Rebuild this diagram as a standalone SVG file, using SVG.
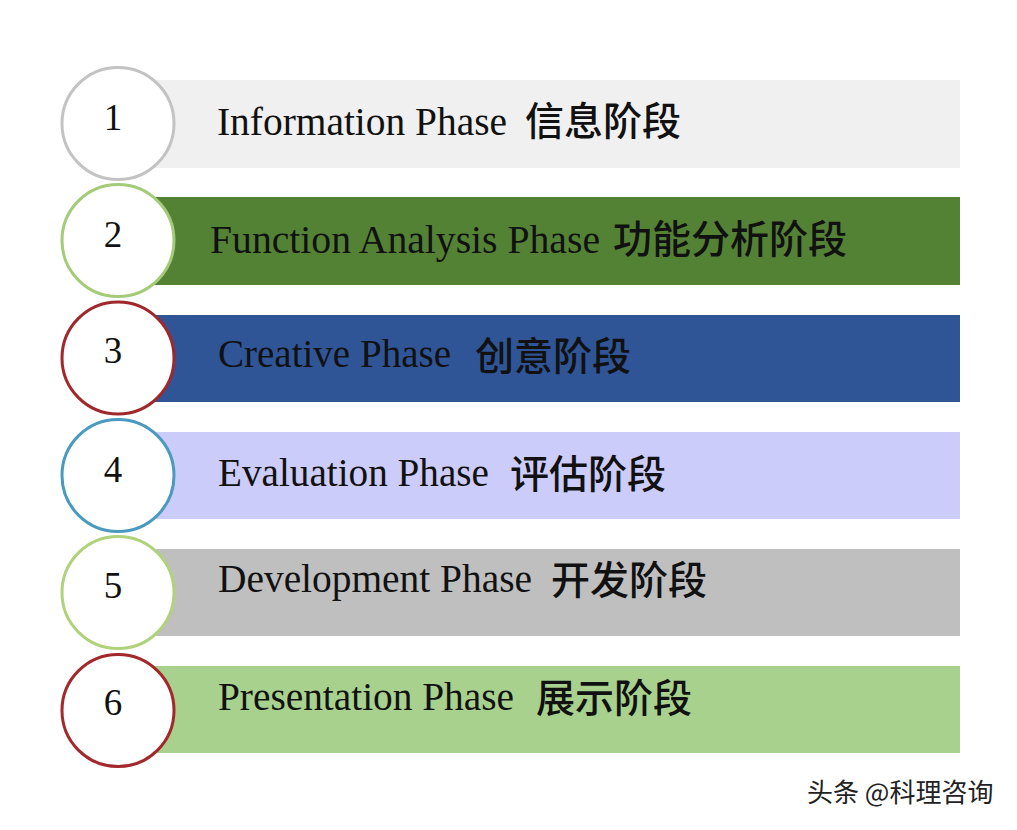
<svg xmlns="http://www.w3.org/2000/svg" width="1017" height="830" viewBox="0 0 1017 830">
<style>
.bar{stroke:none}
.c{fill:#ffffff;stroke-width:3}
.num{font-family:"Liberation Serif","Times New Roman",serif;font-size:37px;fill:#111;text-anchor:middle}
.en{font-family:"Liberation Serif","Times New Roman",serif;font-size:40px;fill:#111}
.cn{font-family:"Noto Sans CJK SC","Noto Sans",sans-serif;font-size:39px;font-weight:500;fill:#111}
.wm{font-family:"Noto Sans CJK SC","Noto Sans",sans-serif;font-size:26px;fill:#222}
</style>
<rect width="1017" height="830" fill="#ffffff"/>
<g id="phase1">
<rect class="bar" x="150" y="80" width="810" height="88" fill="#f0f0f0"/>
<circle class="c" cx="118" cy="123.5" r="56" stroke="#c3c3c3"/>
<text class="num" x="113" y="130">1</text>
<text class="en" x="217" y="135" textLength="290" lengthAdjust="spacingAndGlyphs">Information Phase</text>
<text class="cn" x="525" y="135">信息阶段</text>
</g>
<g id="phase2">
<rect class="bar" x="150" y="197" width="810" height="88" fill="#548235"/>
<circle class="c" cx="118" cy="240.5" r="56" stroke="#a3cb78"/>
<text class="num" x="113" y="247">2</text>
<text class="en" x="210" y="253" textLength="390" lengthAdjust="spacingAndGlyphs" fill="#0d1a08">Function Analysis Phase</text>
<text class="cn" x="613" y="253">功能分析阶段</text>
</g>
<g id="phase3">
<rect class="bar" x="150" y="315" width="810" height="87" fill="#2f5597"/>
<circle class="c" cx="118" cy="358" r="56" stroke="#a0282c"/>
<text class="num" x="113" y="363">3</text>
<text class="en" x="218" y="367" textLength="233" lengthAdjust="spacingAndGlyphs" fill="#0b1631">Creative Phase</text>
<text class="cn" x="475" y="370" fill="#080f20">创意阶段</text>
</g>
<g id="phase4">
<rect class="bar" x="150" y="432" width="810" height="87" fill="#ccccfa"/>
<circle class="c" cx="118" cy="475.5" r="56" stroke="#4a9ac0"/>
<text class="num" x="113" y="482">4</text>
<text class="en" x="218" y="486" textLength="271" lengthAdjust="spacingAndGlyphs">Evaluation Phase</text>
<text class="cn" x="510" y="488">评估阶段</text>
</g>
<g id="phase5">
<rect class="bar" x="150" y="549" width="810" height="87" fill="#bfbfbf"/>
<circle class="c" cx="118" cy="592.5" r="56" stroke="#b0d27a"/>
<text class="num" x="113" y="598">5</text>
<text class="en" x="218" y="592" textLength="314" lengthAdjust="spacingAndGlyphs">Development Phase</text>
<text class="cn" x="551" y="594">开发阶段</text>
</g>
<g id="phase6">
<rect class="bar" x="150" y="666" width="810" height="87" fill="#a9d18e"/>
<circle class="c" cx="118" cy="710.5" r="56" stroke="#a3282b"/>
<text class="num" x="113" y="715">6</text>
<text class="en" x="218" y="710" textLength="296" lengthAdjust="spacingAndGlyphs">Presentation Phase</text>
<text class="cn" x="536" y="712">展示阶段</text>
</g>
<g id="connectors"></g>
<g id="watermark">
<text class="wm" x="807" y="802">头条 @科理咨询</text>
</g>
</svg>
